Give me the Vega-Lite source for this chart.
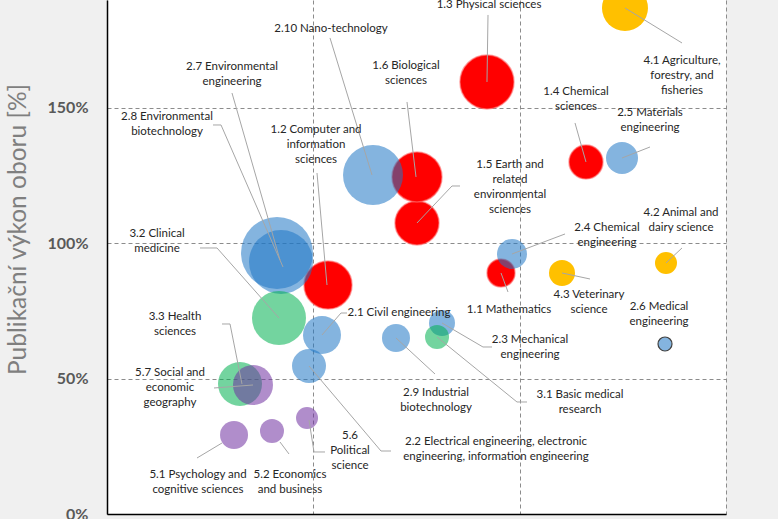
{
  "$schema": "https://vega.github.io/schema/vega-lite/v6.json",
  "width": 619,
  "height": 514,
  "autosize": {"type": "none"},
  "padding": {"left": 107, "top": 0, "right": 52, "bottom": 5},
  "background": "#F0F0F0",
  "config": {"view": {"stroke": null, "fill": "#FFFFFF"}},
  "datasets": {
    "bubbles": [
      {"g": "1", "x": 95.48, "y": 89.0, "v": 196, "label": "1.1 Mathematics", "lx": 97.41, "ly": 75.33},
      {"g": "1", "x": 53.56, "y": 84.56, "v": 576, "label": "1.2 Computer and\ninformation\nsciences", "lx": 50.65, "ly": 141.80},
      {"g": "1", "x": 92.08, "y": 159.53, "v": 729, "label": "1.3 Physical sciences", "lx": 92.57, "ly": 187.96},
      {"g": "1", "x": 116.07, "y": 129.99, "v": 289, "label": "1.4 Chemical\nsciences", "lx": 113.65, "ly": 155.65},
      {"g": "1", "x": 75.12, "y": 107.46, "v": 484, "label": "1.5 Earth and\nrelated\nenvironmental\nsciences", "lx": 97.66, "ly": 128.88},
      {"g": "1", "x": 75.12, "y": 124.45, "v": 625, "label": "1.6 Biological\nsciences", "lx": 72.46, "ly": 165.44},
      {"g": "2", "x": 52.10, "y": 66.10, "v": 361, "label": "2.1 Civil engineering", "lx": 70.76, "ly": 74.22},
      {"g": "2", "x": 48.95, "y": 54.65, "v": 289, "label": "2.2 Electrical engineering, electronic\nengineering, information engineering", "lx": 94.27, "ly": 26.59},
      {"g": "2", "x": 81.18, "y": 70.53, "v": 169, "label": "2.3 Mechanical\nengineering", "lx": 102.50, "ly": 64.25},
      {"g": "2", "x": 98.14, "y": 96.01, "v": 225, "label": "2.4 Chemical\nengineering", "lx": 121.16, "ly": 105.61},
      {"g": "2", "x": 124.80, "y": 131.46, "v": 256, "label": "2.5 Materials\nengineering", "lx": 131.58, "ly": 148.08},
      {"g": "2", "x": 135.22, "y": 62.78, "v": 49, "label": "2.6 Medical\nengineering", "lx": 133.76, "ly": 76.44},
      {"g": "2", "x": 41.20, "y": 96.38, "v": 1296, "label": "2.7 Environmental\nengineering", "lx": 30.29, "ly": 165.07},
      {"g": "2", "x": 42.17, "y": 93.06, "v": 1024, "label": "2.8 Environmental\nbiotechnology", "lx": 14.54, "ly": 146.60},
      {"g": "2", "x": 70.03, "y": 64.99, "v": 196, "label": "2.9 Industrial\nbiotechnology", "lx": 79.73, "ly": 44.50},
      {"g": "2", "x": 64.46, "y": 125.18, "v": 900, "label": "2.10 Nano-technology", "lx": 54.28, "ly": 179.10},
      {"g": "3", "x": 79.97, "y": 65.36, "v": 144, "label": "3.1 Basic medical\nresearch", "lx": 114.62, "ly": 43.94},
      {"g": "3", "x": 41.68, "y": 72.38, "v": 729, "label": "3.2 Clinical\nmedicine", "lx": 12.12, "ly": 103.49},
      {"g": "3", "x": 32.23, "y": 48.01, "v": 484, "label": "3.3 Health\nsciences", "lx": 16.48, "ly": 72.75},
      {"g": "4", "x": 125.52, "y": 186.85, "v": 529, "label": "4.1 Agriculture,\nforestry, and\nfisheries", "lx": 139.34, "ly": 167.28},
      {"g": "4", "x": 135.46, "y": 92.69, "v": 121, "label": "4.2 Animal and\ndairy science", "lx": 139.10, "ly": 110.97},
      {"g": "4", "x": 110.26, "y": 89.0, "v": 169, "label": "4.3 Veterinary\nscience", "lx": 116.80, "ly": 80.87},
      {"g": "5", "x": 30.78, "y": 29.17, "v": 196, "label": "5.1 Psychology and\ncognitive sciences", "lx": 22.05, "ly": 14.22},
      {"g": "5", "x": 39.98, "y": 30.65, "v": 144, "label": "5.2 Economics\nand business", "lx": 44.35, "ly": 14.22},
      {"g": "5", "x": 48.47, "y": 35.45, "v": 121, "label": "5.6\nPolitical\nscience", "lx": 58.89, "ly": 28.80},
      {"g": "5", "x": 35.38, "y": 47.64, "v": 400, "label": "5.7 Social and\neconomic\ngeography", "lx": 15.27, "ly": 52.07}
    ],
    "leaders": [
      {"x": 92.33, "y": 184.27, "x2": 92.08, "y2": 159.53},
      {"x": 54.04, "y": 175.78, "x2": 64.22, "y2": 125.18},
      {"x": 72.70, "y": 152.14, "x2": 74.88, "y2": 124.45},
      {"x": 30.29, "y": 155.46, "x2": 41.92, "y2": 93.80},
      {"x": 25.69, "y": 143.65, "x2": 27.63, "y2": 143.65},
      {"x": 27.63, "y": 143.65, "x2": 42.65, "y2": 91.21},
      {"x": 50.89, "y": 125.92, "x2": 53.31, "y2": 84.56},
      {"x": 85.54, "y": 121.12, "x2": 83.60, "y2": 121.12},
      {"x": 83.60, "y": 121.12, "x2": 75.12, "y2": 107.46},
      {"x": 113.41, "y": 144.39, "x2": 116.07, "y2": 129.99},
      {"x": 131.58, "y": 135.52, "x2": 124.80, "y2": 131.46},
      {"x": 139.34, "y": 173.93, "x2": 125.52, "y2": 186.85},
      {"x": 110.99, "y": 103.40, "x2": 98.14, "y2": 96.01},
      {"x": 139.34, "y": 98.23, "x2": 135.46, "y2": 92.69},
      {"x": 22.54, "y": 98.23, "x2": 26.66, "y2": 98.23},
      {"x": 26.66, "y": 98.23, "x2": 41.68, "y2": 72.38},
      {"x": 117.04, "y": 86.78, "x2": 110.26, "y2": 89.0},
      {"x": 97.17, "y": 81.98, "x2": 95.48, "y2": 89.0},
      {"x": 58.16, "y": 74.22, "x2": 56.70, "y2": 74.22},
      {"x": 56.70, "y": 74.22, "x2": 52.10, "y2": 66.10},
      {"x": 93.30, "y": 61.67, "x2": 91.11, "y2": 61.67},
      {"x": 91.11, "y": 61.67, "x2": 81.18, "y2": 70.53},
      {"x": 27.87, "y": 70.16, "x2": 29.81, "y2": 70.16},
      {"x": 29.81, "y": 70.16, "x2": 32.71, "y2": 48.01},
      {"x": 79.48, "y": 51.70, "x2": 70.03, "y2": 64.99},
      {"x": 101.78, "y": 41.36, "x2": 99.35, "y2": 41.36},
      {"x": 99.35, "y": 41.36, "x2": 79.97, "y2": 65.36},
      {"x": 25.93, "y": 46.53, "x2": 35.38, "y2": 47.64},
      {"x": 52.83, "y": 22.90, "x2": 50.16, "y2": 22.90},
      {"x": 50.16, "y": 22.90, "x2": 48.95, "y2": 34.71},
      {"x": 68.82, "y": 23.26, "x2": 66.40, "y2": 23.26},
      {"x": 66.40, "y": 23.26, "x2": 48.95, "y2": 54.65},
      {"x": 21.81, "y": 20.68, "x2": 27.87, "y2": 26.22},
      {"x": 44.10, "y": 22.16, "x2": 41.92, "y2": 26.59}
    ]
  },
  "layer": [
    {
      "data": {"name": "bubbles"},
      "mark": {"type": "point", "filled": true, "shape": "circle", "opacity": 1},
      "encoding": {
        "x": {"field": "x", "type": "quantitative", "scale": {"domain": [0, 150], "nice": false, "zero": false},
          "axis": {"values": [0, 50, 100, 150], "grid": true, "gridDash": [4, 3], "gridColor": "#8C8C8C", "gridWidth": 1, "labels": false, "ticks": false, "title": null, "domainColor": "#000000", "domainWidth": 1.5}},
        "y": {"field": "y", "type": "quantitative", "scale": {"domain": [0, 189.8], "nice": false, "zero": false},
          "axis": {"values": [0, 50, 100, 150], "labelExpr": "datum.value + '%'", "grid": true, "gridDash": [4, 3], "gridColor": "#8C8C8C", "gridWidth": 1, "ticks": false, "tickSize": 0, "labelPadding": 19, "labelFont": "Lato", "labelFontSize": 16, "labelFontWeight": "bold", "labelColor": "#595959", "domainColor": "#000000", "domainWidth": 1.5,
            "title": "Publikační výkon oboru [%]", "titleFont": "Lato", "titleFontSize": 24.5, "titleFontWeight": "normal", "titleColor": "#7F7F7F", "titleAngle": -90, "titleAlign": "center", "titleBaseline": "alphabetic", "titleX": -82, "titleY": 229}},
        "size": {"field": "v", "type": "quantitative", "scale": {"type": "linear", "zero": true, "domain": [0, 1000], "range": [0, 4000]}, "legend": null},
        "color": {"field": "g", "type": "nominal", "scale": {"domain": ["1", "2", "3", "4", "5"], "range": ["#FF0000", "#1F77C4", "#00B050", "#FFC000", "#7030A0"]}, "legend": null},
        "fillOpacity": {"condition": {"test": "datum.g == '1' || datum.g == '4'", "value": 1}, "value": 0.55},
        "stroke": {"condition": [
          {"test": "indexof(datum.label, '2.6') == 0", "value": "#404040"},
          {"test": "datum.g == '1'", "value": "#FF7070"}
        ], "value": null},
        "strokeWidth": {"condition": [
          {"test": "indexof(datum.label, '2.6') == 0", "value": 1.2},
          {"test": "datum.g == '1'", "value": 1.5}
        ], "value": 0},
        "strokeOpacity": {"condition": {"test": "datum.g == '1'", "value": 0.6}, "value": 1}
      }
    },
    {
      "data": {"name": "leaders"},
      "mark": {"type": "rule", "color": "#A6A6A6", "strokeWidth": 1},
      "encoding": {
        "x": {"field": "x", "type": "quantitative"},
        "y": {"field": "y", "type": "quantitative"},
        "x2": {"field": "x2"},
        "y2": {"field": "y2"}
      }
    },
    {
      "data": {"name": "bubbles"},
      "mark": {"type": "text", "font": "Lato", "fontSize": 11.5, "lineHeight": 15, "lineBreak": "\n", "align": "center", "baseline": "middle", "color": "#262626"},
      "encoding": {
        "x": {"field": "lx", "type": "quantitative"},
        "y": {"field": "ly", "type": "quantitative"},
        "text": {"field": "label"}
      }
    },
    {
      "mark": {"type": "rule", "color": "#000000", "strokeWidth": 1.5},
      "encoding": {"x": {"datum": 150, "type": "quantitative"}}
    }
  ]
}
